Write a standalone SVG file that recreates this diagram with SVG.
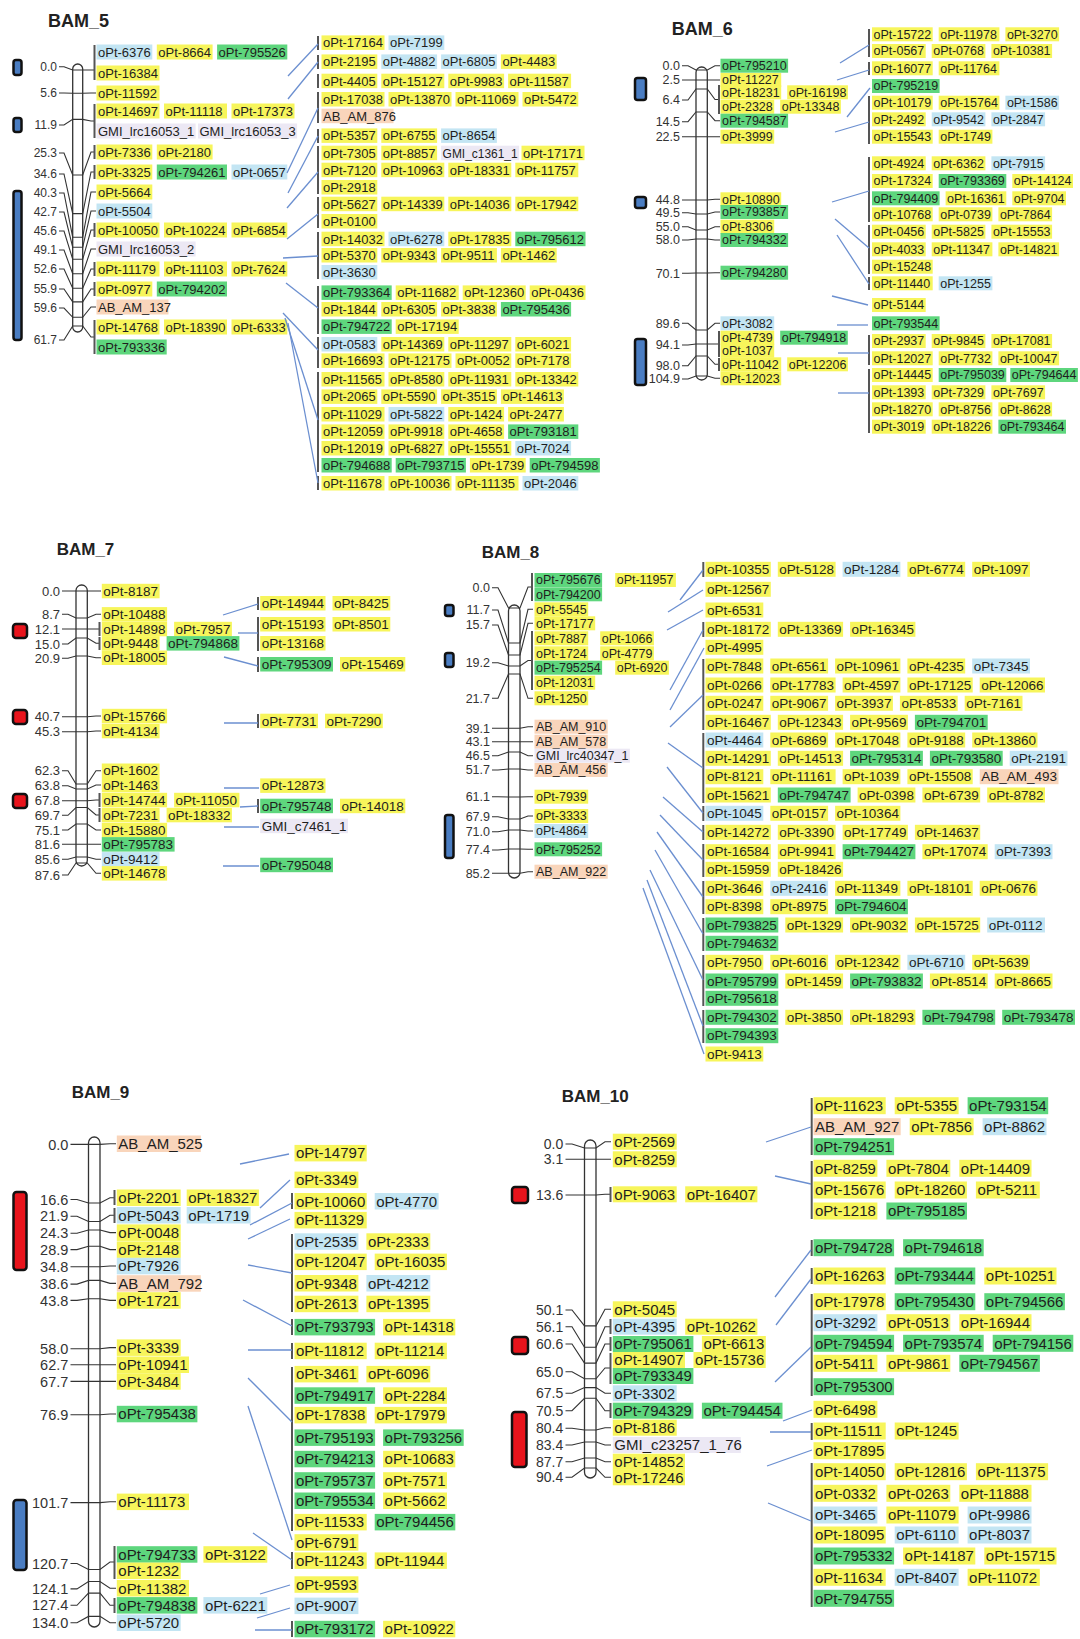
<svg xmlns="http://www.w3.org/2000/svg" width="1080" height="1639" viewBox="0 0 1080 1639">
<defs><style>
text{font-family:"Liberation Sans",Arial,Helvetica,sans-serif;fill:#1e1e1e}
.ttl{font-weight:bold;fill:#222}
.pos text{text-anchor:end;fill:#333}
.y{fill:#f7f55b}.g{fill:#5ed67d}.b{fill:#c3e5f3}.p{fill:#f9d5bb}.l{fill:#ece8f4}
.chr{fill:#fff;stroke:#333;stroke-width:1.3}
.tk{fill:none;stroke:#333;stroke-width:1.1}
.br{stroke:#555;stroke-width:2}
.cn{stroke:#6b8fd0;stroke-width:1.3;fill:none}
.qb{fill:#4a7dc2;stroke:#111;stroke-width:2.5}
.qr{fill:#e8141c;stroke:#111;stroke-width:2.5}
</style></defs>
<rect width="1080" height="1639" fill="#fff"/>

<!-- BAM_5 map -->
<g id="BAM_5">
<text class="ttl" x="48" y="27" font-size="18">BAM_5</text>
<rect class="qb" x="13.5" y="60" width="8" height="15" rx="2.5"/>
<rect class="qb" x="13.5" y="118" width="8" height="14" rx="2.5"/>
<rect class="qb" x="13.5" y="191" width="8" height="149" rx="2.5"/>
<rect class="chr" x="72.7" y="64" width="10" height="268" rx="5"/>
<g class="pos" font-size="12">
<text x="57" y="70.9">0.0</text><text x="57" y="97.2">5.6</text><text x="57" y="129.2">11.9</text><text x="57" y="157.2">25.3</text><text x="57" y="178.2">34.6</text><text x="57" y="197.2">40.3</text><text x="57" y="216.2">42.7</text><text x="57" y="235.2">45.6</text><text x="57" y="254.2">49.1</text><text x="57" y="273.2">52.6</text><text x="57" y="293.2">55.9</text><text x="57" y="312.2">59.6</text><text x="57" y="344.2">61.7</text>
</g>
<g class="tk">
<polyline points="59,66.7 64,66.7 72.7,70 82.7,70 91,70 94.5,70"/>
<polyline points="59,93 64,93 72.7,93.2 82.7,93.2 91,93 96,93"/>
<polyline points="59,125 64,125 72.7,119.4 82.7,119.4 91,121 94.5,121"/>
<polyline points="59,153 64,153 72.7,175 82.7,175 91,152 94.5,152"/>
<polyline points="59,174 64,174 72.7,213.6 82.7,213.6 91,172 94.5,172"/>
<polyline points="59,193 64,193 72.7,237.2 82.7,237.2 91,192 96,192"/>
<polyline points="59,212 64,212 72.7,247.2 82.7,247.2 91,211 96,211"/>
<polyline points="59,231 64,231 72.7,259.2 82.7,259.2 91,230 94.5,230"/>
<polyline points="59,250 64,250 72.7,273.7 82.7,273.7 91,249 96,249"/>
<polyline points="59,269 64,269 72.7,288.2 82.7,288.2 91,269 94.5,269"/>
<polyline points="59,289 64,289 72.7,301.9 82.7,301.9 91,289 94.5,289"/>
<polyline points="59,308 64,308 72.7,317.3 82.7,317.3 91,307 96,307"/>
<polyline points="59,340 64,340 72.7,326 82.7,326 91,337 94.5,337"/>
</g>
<g class="br">
<line x1="94.5" y1="45" x2="94.5" y2="80"/><line x1="94.5" y1="104" x2="94.5" y2="138"/><line x1="94.5" y1="145" x2="94.5" y2="159"/><line x1="94.5" y1="165" x2="94.5" y2="179"/><line x1="94.5" y1="223" x2="94.5" y2="237"/><line x1="94.5" y1="262" x2="94.5" y2="276"/><line x1="94.5" y1="282" x2="94.5" y2="296"/><line x1="94.5" y1="320" x2="94.5" y2="354"/>
</g>
<g font-size="13">
<rect class="b" x="96.5" y="44.5" width="55.8" height="15"/><text x="98" y="56.6">oPt-6376</text>
<rect class="y" x="156.8" y="44.5" width="55.8" height="15"/><text x="158.3" y="56.6">oPt-8664</text>
<rect class="g" x="217.1" y="44.5" width="70.2" height="15"/><text x="218.6" y="56.6">oPt-795526</text>
<rect class="y" x="96.5" y="65.5" width="63" height="15"/><text x="98" y="77.6">oPt-16384</text>
<rect class="y" x="96.5" y="85.5" width="63" height="15"/><text x="98" y="97.6">oPt-11592</text>
<rect class="y" x="96.5" y="103.5" width="63" height="15"/><text x="98" y="115.6">oPt-14697</text>
<rect class="y" x="164" y="103.5" width="63" height="15"/><text x="165.5" y="115.6">oPt-11118</text>
<rect class="y" x="231.5" y="103.5" width="63" height="15"/><text x="233" y="115.6">oPt-17373</text>
<rect class="l" x="96.5" y="123.5" width="99.1" height="15"/><text x="98" y="135.6">GMI_lrc16053_1</text>
<rect class="l" x="198" y="123.5" width="99.1" height="15"/><text x="199.5" y="135.6">GMI_lrc16053_3</text>
<rect class="y" x="96.5" y="144.5" width="55.8" height="15"/><text x="98" y="156.6">oPt-7336</text>
<rect class="y" x="156.8" y="144.5" width="55.8" height="15"/><text x="158.3" y="156.6">oPt-2180</text>
<rect class="y" x="96.5" y="164.5" width="55.8" height="15"/><text x="98" y="176.6">oPt-3325</text>
<rect class="g" x="156.8" y="164.5" width="70.2" height="15"/><text x="158.3" y="176.6">oPt-794261</text>
<rect class="b" x="231.5" y="164.5" width="55.8" height="15"/><text x="233" y="176.6">oPt-0657</text>
<rect class="y" x="96.5" y="184.5" width="55.8" height="15"/><text x="98" y="196.6">oPt-5664</text>
<rect class="b" x="96.5" y="203.5" width="55.8" height="15"/><text x="98" y="215.6">oPt-5504</text>
<rect class="y" x="96.5" y="222.5" width="63" height="15"/><text x="98" y="234.6">oPt-10050</text>
<rect class="y" x="164" y="222.5" width="63" height="15"/><text x="165.5" y="234.6">oPt-10224</text>
<rect class="y" x="231.5" y="222.5" width="55.8" height="15"/><text x="233" y="234.6">oPt-6854</text>
<rect class="l" x="96.5" y="241.5" width="99.1" height="15"/><text x="98" y="253.6">GMI_lrc16053_2</text>
<rect class="y" x="96.5" y="261.5" width="63" height="15"/><text x="98" y="273.6">oPt-11179</text>
<rect class="y" x="164" y="261.5" width="63" height="15"/><text x="165.5" y="273.6">oPt-11103</text>
<rect class="y" x="231.5" y="261.5" width="55.8" height="15"/><text x="233" y="273.6">oPt-7624</text>
<rect class="y" x="96.5" y="281.5" width="55.8" height="15"/><text x="98" y="293.6">oPt-0977</text>
<rect class="g" x="156.8" y="281.5" width="70.2" height="15"/><text x="158.3" y="293.6">oPt-794202</text>
<rect class="p" x="96.5" y="299.5" width="72" height="15"/><text x="98" y="311.6">AB_AM_137</text>
<rect class="y" x="96.5" y="319.5" width="63" height="15"/><text x="98" y="331.6">oPt-14768</text>
<rect class="y" x="164" y="319.5" width="63" height="15"/><text x="165.5" y="331.6">oPt-18390</text>
<rect class="y" x="231.5" y="319.5" width="55.8" height="15"/><text x="233" y="331.6">oPt-6333</text>
<rect class="g" x="96.5" y="339.5" width="70.2" height="15"/><text x="98" y="351.6">oPt-793336</text>
</g>
</g>

<g id="BAM_5_bins">
<g class="br">
<line x1="318" y1="36" x2="318" y2="50"/><line x1="318" y1="55" x2="318" y2="69"/><line x1="318" y1="74" x2="318" y2="88"/><line x1="318" y1="92" x2="318" y2="123"/><line x1="318" y1="129" x2="318" y2="143"/><line x1="318" y1="146" x2="318" y2="194"/><line x1="318" y1="197" x2="318" y2="228"/><line x1="318" y1="232" x2="318" y2="279"/><line x1="318" y1="286" x2="318" y2="334"/><line x1="318" y1="337" x2="318" y2="368"/><line x1="318" y1="372" x2="318" y2="472"/><line x1="318" y1="476" x2="318" y2="490"/>
</g>
<g font-size="13">
<rect class="y" x="321.5" y="35.4" width="63" height="14.5"/><text x="323" y="47.3">oPt-17164</text>
<rect class="b" x="388.5" y="35.4" width="55.8" height="14.5"/><text x="390" y="47.3">oPt-7199</text>
<rect class="y" x="321.5" y="54.4" width="55.8" height="14.5"/><text x="323" y="66.3">oPt-2195</text>
<rect class="b" x="381.3" y="54.4" width="55.8" height="14.5"/><text x="382.8" y="66.3">oPt-4882</text>
<rect class="b" x="441.1" y="54.4" width="55.8" height="14.5"/><text x="442.6" y="66.3">oPt-6805</text>
<rect class="y" x="500.9" y="54.4" width="55.8" height="14.5"/><text x="502.4" y="66.3">oPt-4483</text>
<rect class="y" x="321.5" y="73.7" width="55.8" height="14.5"/><text x="323" y="85.6">oPt-4405</text>
<rect class="y" x="381.3" y="73.7" width="63" height="14.5"/><text x="382.8" y="85.6">oPt-15127</text>
<rect class="y" x="448.3" y="73.7" width="55.8" height="14.5"/><text x="449.8" y="85.6">oPt-9983</text>
<rect class="y" x="508.1" y="73.7" width="63" height="14.5"/><text x="509.6" y="85.6">oPt-11587</text>
<rect class="y" x="321.5" y="92" width="63" height="14.5"/><text x="323" y="103.9">oPt-17038</text>
<rect class="y" x="388.5" y="92" width="63" height="14.5"/><text x="390" y="103.9">oPt-13870</text>
<rect class="y" x="455.5" y="92" width="63" height="14.5"/><text x="457" y="103.9">oPt-11069</text>
<rect class="y" x="522.5" y="92" width="55.8" height="14.5"/><text x="524" y="103.9">oPt-5472</text>
<rect class="p" x="321.5" y="108.7" width="72" height="14.5"/><text x="323" y="120.6">AB_AM_876</text>
<rect class="y" x="321.5" y="128.4" width="55.8" height="14.5"/><text x="323" y="140.3">oPt-5357</text>
<rect class="y" x="381.3" y="128.4" width="55.8" height="14.5"/><text x="382.8" y="140.3">oPt-6755</text>
<rect class="b" x="441.1" y="128.4" width="55.8" height="14.5"/><text x="442.6" y="140.3">oPt-8654</text>
<rect class="y" x="321.5" y="145.7" width="55.8" height="14.5"/><text x="323" y="157.6">oPt-7305</text>
<rect class="y" x="381.3" y="145.7" width="55.8" height="14.5"/><text x="382.8" y="157.6">oPt-8857</text>
<rect class="l" x="441.1" y="145.7" width="78" height="14.5"/><text x="442.6" y="157.6" textLength="75" lengthAdjust="spacingAndGlyphs">GMI_c1361_1</text>
<rect class="y" x="521.5" y="145.7" width="63" height="14.5"/><text x="523" y="157.6">oPt-17171</text>
<rect class="y" x="321.5" y="162.7" width="55.8" height="14.5"/><text x="323" y="174.6">oPt-7120</text>
<rect class="y" x="381.3" y="162.7" width="63" height="14.5"/><text x="382.8" y="174.6">oPt-10963</text>
<rect class="y" x="448.3" y="162.7" width="63" height="14.5"/><text x="449.8" y="174.6">oPt-18331</text>
<rect class="y" x="515.3" y="162.7" width="63" height="14.5"/><text x="516.8" y="174.6">oPt-11757</text>
<rect class="y" x="321.5" y="180" width="55.8" height="14.5"/><text x="323" y="191.9">oPt-2918</text>
<rect class="y" x="321.5" y="196.7" width="55.8" height="14.5"/><text x="323" y="208.6">oPt-5627</text>
<rect class="y" x="381.3" y="196.7" width="63" height="14.5"/><text x="382.8" y="208.6">oPt-14339</text>
<rect class="y" x="448.3" y="196.7" width="63" height="14.5"/><text x="449.8" y="208.6">oPt-14036</text>
<rect class="y" x="515.3" y="196.7" width="63" height="14.5"/><text x="516.8" y="208.6">oPt-17942</text>
<rect class="y" x="321.5" y="214" width="55.8" height="14.5"/><text x="323" y="225.9">oPt-0100</text>
<rect class="y" x="321.5" y="231.7" width="63" height="14.5"/><text x="323" y="243.6">oPt-14032</text>
<rect class="b" x="388.5" y="231.7" width="55.8" height="14.5"/><text x="390" y="243.6">oPt-6278</text>
<rect class="y" x="448.3" y="231.7" width="63" height="14.5"/><text x="449.8" y="243.6">oPt-17835</text>
<rect class="g" x="515.3" y="231.7" width="70.2" height="14.5"/><text x="516.8" y="243.6">oPt-795612</text>
<rect class="y" x="321.5" y="248" width="55.8" height="14.5"/><text x="323" y="259.9">oPt-5370</text>
<rect class="y" x="381.3" y="248" width="55.8" height="14.5"/><text x="382.8" y="259.9">oPt-9343</text>
<rect class="y" x="441.1" y="248" width="55.8" height="14.5"/><text x="442.6" y="259.9">oPt-9511</text>
<rect class="y" x="500.9" y="248" width="55.8" height="14.5"/><text x="502.4" y="259.9">oPt-1462</text>
<rect class="b" x="321.5" y="265" width="55.8" height="14.5"/><text x="323" y="276.9">oPt-3630</text>
<rect class="g" x="321.5" y="285.4" width="70.2" height="14.5"/><text x="323" y="297.3">oPt-793364</text>
<rect class="y" x="395.7" y="285.4" width="63" height="14.5"/><text x="397.2" y="297.3">oPt-11682</text>
<rect class="y" x="462.7" y="285.4" width="63" height="14.5"/><text x="464.2" y="297.3">oPt-12360</text>
<rect class="y" x="529.7" y="285.4" width="55.8" height="14.5"/><text x="531.2" y="297.3">oPt-0436</text>
<rect class="y" x="321.5" y="302" width="55.8" height="14.5"/><text x="323" y="313.9">oPt-1844</text>
<rect class="y" x="381.3" y="302" width="55.8" height="14.5"/><text x="382.8" y="313.9">oPt-6305</text>
<rect class="y" x="441.1" y="302" width="55.8" height="14.5"/><text x="442.6" y="313.9">oPt-3838</text>
<rect class="g" x="500.9" y="302" width="70.2" height="14.5"/><text x="502.4" y="313.9">oPt-795436</text>
<rect class="g" x="321.5" y="319.4" width="70.2" height="14.5"/><text x="323" y="331.3">oPt-794722</text>
<rect class="y" x="395.7" y="319.4" width="63" height="14.5"/><text x="397.2" y="331.3">oPt-17194</text>
<rect class="b" x="321.5" y="337" width="55.8" height="14.5"/><text x="323" y="348.9">oPt-0583</text>
<rect class="y" x="381.3" y="337" width="63" height="14.5"/><text x="382.8" y="348.9">oPt-14369</text>
<rect class="y" x="448.3" y="337" width="63" height="14.5"/><text x="449.8" y="348.9">oPt-11297</text>
<rect class="y" x="515.3" y="337" width="55.8" height="14.5"/><text x="516.8" y="348.9">oPt-6021</text>
<rect class="y" x="321.5" y="353.4" width="63" height="14.5"/><text x="323" y="365.3">oPt-16693</text>
<rect class="y" x="388.5" y="353.4" width="63" height="14.5"/><text x="390" y="365.3">oPt-12175</text>
<rect class="y" x="455.5" y="353.4" width="55.8" height="14.5"/><text x="457" y="365.3">oPt-0052</text>
<rect class="y" x="515.3" y="353.4" width="55.8" height="14.5"/><text x="516.8" y="365.3">oPt-7178</text>
<rect class="y" x="321.5" y="372" width="63" height="14.5"/><text x="323" y="383.9">oPt-11565</text>
<rect class="y" x="388.5" y="372" width="55.8" height="14.5"/><text x="390" y="383.9">oPt-8580</text>
<rect class="y" x="448.3" y="372" width="63" height="14.5"/><text x="449.8" y="383.9">oPt-11931</text>
<rect class="y" x="515.3" y="372" width="63" height="14.5"/><text x="516.8" y="383.9">oPt-13342</text>
<rect class="y" x="321.5" y="389.4" width="55.8" height="14.5"/><text x="323" y="401.3">oPt-2065</text>
<rect class="y" x="381.3" y="389.4" width="55.8" height="14.5"/><text x="382.8" y="401.3">oPt-5590</text>
<rect class="y" x="441.1" y="389.4" width="55.8" height="14.5"/><text x="442.6" y="401.3">oPt-3515</text>
<rect class="y" x="500.9" y="389.4" width="63" height="14.5"/><text x="502.4" y="401.3">oPt-14613</text>
<rect class="y" x="321.5" y="407" width="63" height="14.5"/><text x="323" y="418.9">oPt-11029</text>
<rect class="b" x="388.5" y="407" width="55.8" height="14.5"/><text x="390" y="418.9">oPt-5822</text>
<rect class="y" x="448.3" y="407" width="55.8" height="14.5"/><text x="449.8" y="418.9">oPt-1424</text>
<rect class="y" x="508.1" y="407" width="55.8" height="14.5"/><text x="509.6" y="418.9">oPt-2477</text>
<rect class="y" x="321.5" y="424.4" width="63" height="14.5"/><text x="323" y="436.3">oPt-12059</text>
<rect class="y" x="388.5" y="424.4" width="55.8" height="14.5"/><text x="390" y="436.3">oPt-9918</text>
<rect class="y" x="448.3" y="424.4" width="55.8" height="14.5"/><text x="449.8" y="436.3">oPt-4658</text>
<rect class="g" x="508.1" y="424.4" width="70.2" height="14.5"/><text x="509.6" y="436.3">oPt-793181</text>
<rect class="y" x="321.5" y="441" width="63" height="14.5"/><text x="323" y="452.9">oPt-12019</text>
<rect class="y" x="388.5" y="441" width="55.8" height="14.5"/><text x="390" y="452.9">oPt-6827</text>
<rect class="y" x="448.3" y="441" width="63" height="14.5"/><text x="449.8" y="452.9">oPt-15551</text>
<rect class="b" x="515.3" y="441" width="55.8" height="14.5"/><text x="516.8" y="452.9">oPt-7024</text>
<rect class="g" x="321.5" y="458" width="70.2" height="14.5"/><text x="323" y="469.9">oPt-794688</text>
<rect class="g" x="395.7" y="458" width="70.2" height="14.5"/><text x="397.2" y="469.9">oPt-793715</text>
<rect class="y" x="469.9" y="458" width="55.8" height="14.5"/><text x="471.4" y="469.9">oPt-1739</text>
<rect class="g" x="529.7" y="458" width="70.2" height="14.5"/><text x="531.2" y="469.9">oPt-794598</text>
<rect class="y" x="321.5" y="476" width="63" height="14.5"/><text x="323" y="487.9">oPt-11678</text>
<rect class="y" x="388.5" y="476" width="63" height="14.5"/><text x="390" y="487.9">oPt-10036</text>
<rect class="y" x="455.5" y="476" width="63" height="14.5"/><text x="457" y="487.9">oPt-11135</text>
<rect class="b" x="522.5" y="476" width="55.8" height="14.5"/><text x="524" y="487.9">oPt-2046</text>
</g>
</g>

<!-- BAM_6 -->
<g id="BAM_6">
<text class="ttl" x="671.7" y="35" font-size="18">BAM_6</text>
<rect class="qb" x="635" y="78" width="11" height="22" rx="2.5"/>
<rect class="qb" x="635" y="197" width="11" height="11" rx="2.5"/>
<rect class="qb" x="635" y="339" width="11" height="46" rx="2.5"/>
<rect class="chr" x="696" y="67" width="11.3" height="313" rx="5.5"/>
<g class="pos" font-size="12.5">
<text x="680" y="70.1">0.0</text><text x="680" y="84.4">2.5</text><text x="680" y="104.4">6.4</text><text x="680" y="126.1">14.5</text><text x="680" y="141.1">22.5</text><text x="680" y="204.4">44.8</text><text x="680" y="217.1">49.5</text><text x="680" y="231.1">55.0</text><text x="680" y="244.4">58.0</text><text x="680" y="277.7">70.1</text><text x="680" y="327.7">89.6</text><text x="680" y="349.4">94.1</text><text x="680" y="370.1">98.0</text><text x="680" y="383.4">104.9</text>
</g>
<g class="tk">
<polyline points="682,65.7 688,65.7 696,70 707.3,70 715,65.7 720,65.7"/>
<polyline points="682,80 688,80 696,80 707.3,80 715,80 720,80"/>
<polyline points="682,100 688,100 696,89 707.3,89 715,99.5 719,99.5"/>
<polyline points="682,121.7 688,121.7 696,112 707.3,112 715,120.7 720,120.7"/>
<polyline points="682,136.7 688,136.7 696,136.7 707.3,136.7 715,136.7 720,136.7"/>
<polyline points="682,200 688,200 696,200 707.3,200 715,199.3 720,199.3"/>
<polyline points="682,212.7 688,212.7 696,214 707.3,214 715,212 720,212"/>
<polyline points="682,226.7 688,226.7 696,230 707.3,230 715,226.7 720,226.7"/>
<polyline points="682,240 688,240 696,239 707.3,239 715,240 720,240"/>
<polyline points="682,273.3 688,273.3 696,273 707.3,273 715,272.7 720,272.7"/>
<polyline points="682,323.3 688,323.3 696,330 707.3,330 715,323.3 720,323.3"/>
<polyline points="682,345 688,345 696,344 707.3,344 715,344 719,344"/>
<polyline points="682,365.7 688,365.7 696,356 707.3,356 715,364.3 719,364.3"/>
<polyline points="682,379 688,379 696,376 707.3,376 715,378.3 720,378.3"/>
</g>
<g class="br"><line x1="719" y1="85" x2="719" y2="114"/><line x1="719" y1="331" x2="719" y2="357"/><line x1="719" y1="358" x2="719" y2="371"/></g>
<g font-size="12.5">
<rect class="g" x="720.5" y="58.7" width="67.6" height="14"/><text x="722" y="70.1">oPt-795210</text>
<rect class="y" x="720.5" y="73" width="60.7" height="14"/><text x="722" y="84.4">oPt-11227</text>
<rect class="y" x="720.5" y="85.3" width="60.7" height="14"/><text x="722" y="96.7">oPt-18231</text>
<rect class="y" x="787.2" y="85.3" width="60.7" height="14"/><text x="788.7" y="96.7">oPt-16198</text>
<rect class="y" x="720.5" y="99.7" width="53.7" height="14"/><text x="722" y="111.1">oPt-2328</text>
<rect class="y" x="780.2" y="99.7" width="60.7" height="14"/><text x="781.7" y="111.1">oPt-13348</text>
<rect class="g" x="720.5" y="113.7" width="67.6" height="14"/><text x="722" y="125.1">oPt-794587</text>
<rect class="y" x="720.5" y="129.7" width="53.7" height="14"/><text x="722" y="141.1">oPt-3999</text>
<rect class="y" x="720.5" y="192.3" width="60.7" height="14"/><text x="722" y="203.7">oPt-10890</text>
<rect class="g" x="720.5" y="205" width="67.6" height="14"/><text x="722" y="216.4">oPt-793857</text>
<rect class="y" x="720.5" y="219.7" width="53.7" height="14"/><text x="722" y="231.1">oPt-8306</text>
<rect class="g" x="720.5" y="233" width="67.6" height="14"/><text x="722" y="244.4">oPt-794332</text>
<rect class="g" x="720.5" y="265.7" width="67.6" height="14"/><text x="722" y="277.1">oPt-794280</text>
<rect class="b" x="720.5" y="316.3" width="53.7" height="14"/><text x="722" y="327.7">oPt-3082</text>
<rect class="y" x="720.5" y="330.7" width="53.7" height="14"/><text x="722" y="342.1">oPt-4739</text>
<rect class="g" x="780.2" y="330.7" width="67.6" height="14"/><text x="781.7" y="342.1">oPt-794918</text>
<rect class="y" x="720.5" y="343.7" width="53.7" height="14"/><text x="722" y="355.1">oPt-1037</text>
<rect class="y" x="720.5" y="357.3" width="60.7" height="14"/><text x="722" y="368.7">oPt-11042</text>
<rect class="y" x="787.2" y="357.3" width="60.7" height="14"/><text x="788.7" y="368.7">oPt-12206</text>
<rect class="y" x="720.5" y="371.3" width="60.7" height="14"/><text x="722" y="382.7">oPt-12023</text>
</g>
</g>

<g id="BAM_6_bins">
<g class="br">
<line x1="869" y1="29" x2="869" y2="57"/><line x1="869" y1="62" x2="869" y2="75"/><line x1="869" y1="96" x2="869" y2="144"/><line x1="869" y1="157" x2="869" y2="222"/><line x1="869" y1="225" x2="869" y2="274"/><line x1="869" y1="277" x2="869" y2="290"/><line x1="869" y1="335" x2="869" y2="365"/><line x1="869" y1="369" x2="869" y2="433"/>
</g>
<g font-size="12.5">
<rect class="y" x="872" y="27.3" width="60.7" height="14"/><text x="873.5" y="38.7">oPt-15722</text>
<rect class="y" x="938.7" y="27.3" width="60.7" height="14"/><text x="940.2" y="38.7">oPt-11978</text>
<rect class="y" x="1005.4" y="27.3" width="53.7" height="14"/><text x="1006.9" y="38.7">oPt-3270</text>
<rect class="y" x="872" y="44" width="53.7" height="14"/><text x="873.5" y="55.4">oPt-0567</text>
<rect class="y" x="931.7" y="44" width="53.7" height="14"/><text x="933.2" y="55.4">oPt-0768</text>
<rect class="y" x="991.4" y="44" width="60.7" height="14"/><text x="992.9" y="55.4">oPt-10381</text>
<rect class="y" x="872" y="61.3" width="60.7" height="14"/><text x="873.5" y="72.7">oPt-16077</text>
<rect class="y" x="938.7" y="61.3" width="60.7" height="14"/><text x="940.2" y="72.7">oPt-11764</text>
<rect class="g" x="872" y="79" width="67.6" height="14"/><text x="873.5" y="90.4">oPt-795219</text>
<rect class="y" x="872" y="95.7" width="60.7" height="14"/><text x="873.5" y="107.1">oPt-10179</text>
<rect class="y" x="938.7" y="95.7" width="60.7" height="14"/><text x="940.2" y="107.1">oPt-15764</text>
<rect class="b" x="1005.4" y="95.7" width="53.7" height="14"/><text x="1006.9" y="107.1">oPt-1586</text>
<rect class="y" x="872" y="112.3" width="53.7" height="14"/><text x="873.5" y="123.7">oPt-2492</text>
<rect class="b" x="931.7" y="112.3" width="53.7" height="14"/><text x="933.2" y="123.7">oPt-9542</text>
<rect class="b" x="991.4" y="112.3" width="53.7" height="14"/><text x="992.9" y="123.7">oPt-2847</text>
<rect class="y" x="872" y="129.7" width="60.7" height="14"/><text x="873.5" y="141.1">oPt-15543</text>
<rect class="y" x="938.7" y="129.7" width="53.7" height="14"/><text x="940.2" y="141.1">oPt-1749</text>
<rect class="y" x="872" y="156.3" width="53.7" height="14"/><text x="873.5" y="167.7">oPt-4924</text>
<rect class="y" x="931.7" y="156.3" width="53.7" height="14"/><text x="933.2" y="167.7">oPt-6362</text>
<rect class="b" x="991.4" y="156.3" width="53.7" height="14"/><text x="992.9" y="167.7">oPt-7915</text>
<rect class="y" x="872" y="174" width="60.7" height="14"/><text x="873.5" y="185.4">oPt-17324</text>
<rect class="g" x="938.7" y="174" width="67.6" height="14"/><text x="940.2" y="185.4">oPt-793369</text>
<rect class="y" x="1012.3" y="174" width="60.7" height="14"/><text x="1013.8" y="185.4">oPt-14124</text>
<rect class="g" x="872" y="191.3" width="67.6" height="14"/><text x="873.5" y="202.7">oPt-794409</text>
<rect class="y" x="945.6" y="191.3" width="60.7" height="14"/><text x="947.1" y="202.7">oPt-16361</text>
<rect class="y" x="1012.3" y="191.3" width="53.7" height="14"/><text x="1013.8" y="202.7">oPt-9704</text>
<rect class="y" x="872" y="207.3" width="60.7" height="14"/><text x="873.5" y="218.7">oPt-10768</text>
<rect class="y" x="938.7" y="207.3" width="53.7" height="14"/><text x="940.2" y="218.7">oPt-0739</text>
<rect class="y" x="998.4" y="207.3" width="53.7" height="14"/><text x="999.9" y="218.7">oPt-7864</text>
<rect class="y" x="872" y="224.7" width="53.7" height="14"/><text x="873.5" y="236.1">oPt-0456</text>
<rect class="y" x="931.7" y="224.7" width="53.7" height="14"/><text x="933.2" y="236.1">oPt-5825</text>
<rect class="y" x="991.4" y="224.7" width="60.7" height="14"/><text x="992.9" y="236.1">oPt-15553</text>
<rect class="y" x="872" y="242.3" width="53.7" height="14"/><text x="873.5" y="253.7">oPt-4033</text>
<rect class="y" x="931.7" y="242.3" width="60.7" height="14"/><text x="933.2" y="253.7">oPt-11347</text>
<rect class="y" x="998.4" y="242.3" width="60.7" height="14"/><text x="999.9" y="253.7">oPt-14821</text>
<rect class="y" x="872" y="259.7" width="60.7" height="14"/><text x="873.5" y="271.1">oPt-15248</text>
<rect class="y" x="872" y="276.3" width="60.7" height="14"/><text x="873.5" y="287.7">oPt-11440</text>
<rect class="b" x="938.7" y="276.3" width="53.7" height="14"/><text x="940.2" y="287.7">oPt-1255</text>
<rect class="y" x="872" y="298" width="53.7" height="14"/><text x="873.5" y="309.4">oPt-5144</text>
<rect class="g" x="872" y="316.3" width="67.6" height="14"/><text x="873.5" y="327.7">oPt-793544</text>
<rect class="y" x="872" y="334" width="53.7" height="14"/><text x="873.5" y="345.4">oPt-2937</text>
<rect class="y" x="931.7" y="334" width="53.7" height="14"/><text x="933.2" y="345.4">oPt-9845</text>
<rect class="y" x="991.4" y="334" width="60.7" height="14"/><text x="992.9" y="345.4">oPt-17081</text>
<rect class="y" x="872" y="351.3" width="60.7" height="14"/><text x="873.5" y="362.7">oPt-12027</text>
<rect class="y" x="938.7" y="351.3" width="53.7" height="14"/><text x="940.2" y="362.7">oPt-7732</text>
<rect class="y" x="998.4" y="351.3" width="60.7" height="14"/><text x="999.9" y="362.7">oPt-10047</text>
<rect class="y" x="872" y="368" width="60.7" height="14"/><text x="873.5" y="379.4">oPt-14445</text>
<rect class="g" x="938.7" y="368" width="67.6" height="14"/><text x="940.2" y="379.4">oPt-795039</text>
<rect class="g" x="1010.3" y="368" width="67.6" height="14"/><text x="1011.8" y="379.4">oPt-794644</text>
<rect class="y" x="872" y="385.3" width="53.7" height="14"/><text x="873.5" y="396.7">oPt-1393</text>
<rect class="y" x="931.7" y="385.3" width="53.7" height="14"/><text x="933.2" y="396.7">oPt-7329</text>
<rect class="y" x="991.4" y="385.3" width="53.7" height="14"/><text x="992.9" y="396.7">oPt-7697</text>
<rect class="y" x="872" y="402.3" width="60.7" height="14"/><text x="873.5" y="413.7">oPt-18270</text>
<rect class="y" x="938.7" y="402.3" width="53.7" height="14"/><text x="940.2" y="413.7">oPt-8756</text>
<rect class="y" x="998.4" y="402.3" width="53.7" height="14"/><text x="999.9" y="413.7">oPt-8628</text>
<rect class="y" x="872" y="419.7" width="53.7" height="14"/><text x="873.5" y="431.1">oPt-3019</text>
<rect class="y" x="931.7" y="419.7" width="60.7" height="14"/><text x="933.2" y="431.1">oPt-18226</text>
<rect class="g" x="998.4" y="419.7" width="67.6" height="14"/><text x="999.9" y="431.1">oPt-793464</text>
</g>
</g>

<!-- BAM_7 -->
<g id="BAM_7">
<text class="ttl" x="56.7" y="555" font-size="17">BAM_7</text>
<rect class="qr" x="13" y="624" width="14" height="14" rx="3"/>
<rect class="qr" x="13" y="710" width="14" height="14" rx="3"/>
<rect class="qr" x="13" y="794" width="14" height="14" rx="3"/>
<rect class="chr" x="76" y="585" width="11.3" height="281" rx="5.5"/>
<g class="pos" font-size="13">
<text x="60" y="595.6">0.0</text><text x="60" y="618.9">8.7</text><text x="60" y="633.6">12.1</text><text x="60" y="648.6">15.0</text><text x="60" y="662.9">20.9</text><text x="60" y="721.3">40.7</text><text x="60" y="736.3">45.3</text><text x="60" y="775.3">62.3</text><text x="60" y="790.3">63.8</text><text x="60" y="805.3">67.8</text><text x="60" y="819.9">69.7</text><text x="60" y="834.6">75.1</text><text x="60" y="848.9">81.6</text><text x="60" y="863.9">85.6</text><text x="60" y="879.6">87.6</text>
</g>
<g class="tk">
<polyline points="62,591 68,591 76,591 87.3,591 96,591 101,591"/>
<polyline points="62,614.3 68,614.3 76,618 87.3,618 96,614.3 101,614.3"/>
<polyline points="62,629 68,629 76,629 87.3,629 96,629 99.5,629"/>
<polyline points="62,644 68,644 76,638 87.3,638 96,643.3 99.5,643.3"/>
<polyline points="62,658.3 68,658.3 76,656 87.3,656 96,657.7 101,657.7"/>
<polyline points="62,716.7 68,716.7 76,716.7 87.3,716.7 96,716 101,716"/>
<polyline points="62,731.7 68,731.7 76,731.7 87.3,731.7 96,731 101,731"/>
<polyline points="62,770.7 68,770.7 76,784 87.3,784 96,770.7 101,770.7"/>
<polyline points="62,785.7 68,785.7 76,789 87.3,789 96,785 101,785"/>
<polyline points="62,800.7 68,800.7 76,800.7 87.3,800.7 96,800 99.5,800"/>
<polyline points="62,815.3 68,815.3 76,807.5 87.3,807.5 96,815 99.5,815"/>
<polyline points="62,830 68,830 76,824 87.3,824 96,830 101,830"/>
<polyline points="62,844.3 68,844.3 76,844.3 87.3,844.3 96,844.3 101,844.3"/>
<polyline points="62,859.3 68,859.3 76,857 87.3,857 96,859.3 101,859.3"/>
<polyline points="62,875 68,875 76,863 87.3,863 96,873.3 101,873.3"/>
</g>
<g class="br"><line x1="99.5" y1="622" x2="99.5" y2="636"/><line x1="99.5" y1="637" x2="99.5" y2="650"/><line x1="99.5" y1="793" x2="99.5" y2="807"/><line x1="99.5" y1="808" x2="99.5" y2="822"/></g>
<g font-size="13.5">
<rect class="y" x="101.8" y="583.8" width="57.8" height="14.5"/><text x="103.3" y="595.7">oPt-8187</text>
<rect class="y" x="101.8" y="607.1" width="65.3" height="14.5"/><text x="103.3" y="619">oPt-10488</text>
<rect class="y" x="101.8" y="621.8" width="65.3" height="14.5"/><text x="103.3" y="633.7">oPt-14898</text>
<rect class="y" x="174.1" y="621.8" width="57.8" height="14.5"/><text x="175.6" y="633.7">oPt-7957</text>
<rect class="y" x="101.8" y="636.1" width="57.8" height="14.5"/><text x="103.3" y="648">oPt-9448</text>
<rect class="g" x="166.6" y="636.1" width="72.8" height="14.5"/><text x="168.1" y="648">oPt-794868</text>
<rect class="y" x="101.8" y="650.5" width="65.3" height="14.5"/><text x="103.3" y="662.4">oPt-18005</text>
<rect class="y" x="101.8" y="708.8" width="65.3" height="14.5"/><text x="103.3" y="720.7">oPt-15766</text>
<rect class="y" x="101.8" y="723.8" width="57.8" height="14.5"/><text x="103.3" y="735.7">oPt-4134</text>
<rect class="y" x="101.8" y="763.5" width="57.8" height="14.5"/><text x="103.3" y="775.4">oPt-1602</text>
<rect class="y" x="101.8" y="777.8" width="57.8" height="14.5"/><text x="103.3" y="789.7">oPt-1463</text>
<rect class="y" x="101.8" y="792.8" width="65.3" height="14.5"/><text x="103.3" y="804.7">oPt-14744</text>
<rect class="y" x="174.1" y="792.8" width="65.3" height="14.5"/><text x="175.6" y="804.7">oPt-11050</text>
<rect class="y" x="101.8" y="807.8" width="57.8" height="14.5"/><text x="103.3" y="819.7">oPt-7231</text>
<rect class="y" x="166.6" y="807.8" width="65.3" height="14.5"/><text x="168.1" y="819.7">oPt-18332</text>
<rect class="y" x="101.8" y="822.8" width="65.3" height="14.5"/><text x="103.3" y="834.7">oPt-15880</text>
<rect class="g" x="101.8" y="837.1" width="72.8" height="14.5"/><text x="103.3" y="849">oPt-795783</text>
<rect class="b" x="101.8" y="852.1" width="57.8" height="14.5"/><text x="103.3" y="864">oPt-9412</text>
<rect class="y" x="101.8" y="866.1" width="65.3" height="14.5"/><text x="103.3" y="878">oPt-14678</text>
</g>
</g>

<g id="BAM_7_bins">
<g class="br"><line x1="258" y1="597" x2="258" y2="610"/><line x1="258" y1="617" x2="258" y2="651"/><line x1="258" y1="657" x2="258" y2="672"/><line x1="258" y1="714" x2="258" y2="728"/><line x1="258" y1="799" x2="258" y2="813"/></g>
<g font-size="13.5">
<rect class="y" x="260.2" y="596" width="65.3" height="14.5"/><text x="261.7" y="608">oPt-14944</text>
<rect class="y" x="332.5" y="596" width="57.8" height="14.5"/><text x="334" y="608">oPt-8425</text>
<rect class="y" x="260.2" y="617" width="65.3" height="14.5"/><text x="261.7" y="629">oPt-15193</text>
<rect class="y" x="332.5" y="617" width="57.8" height="14.5"/><text x="334" y="629">oPt-8501</text>
<rect class="y" x="260.2" y="636" width="65.3" height="14.5"/><text x="261.7" y="648">oPt-13168</text>
<rect class="g" x="260.2" y="657" width="72.8" height="14.5"/><text x="261.7" y="669">oPt-795309</text>
<rect class="y" x="340" y="657" width="65.3" height="14.5"/><text x="341.5" y="669">oPt-15469</text>
<rect class="y" x="260.2" y="713.7" width="57.8" height="14.5"/><text x="261.7" y="725.7">oPt-7731</text>
<rect class="y" x="325" y="713.7" width="57.8" height="14.5"/><text x="326.5" y="725.7">oPt-7290</text>
<rect class="y" x="260.2" y="778.4" width="65.3" height="14.5"/><text x="261.7" y="790.4">oPt-12873</text>
<rect class="g" x="260.2" y="798.7" width="72.8" height="14.5"/><text x="261.7" y="810.7">oPt-795748</text>
<rect class="y" x="340" y="798.7" width="65.3" height="14.5"/><text x="341.5" y="810.7">oPt-14018</text>
<rect class="l" x="260.2" y="818.7" width="87.8" height="14.5"/><text x="261.7" y="830.7">GMI_c7461_1</text>
<rect class="g" x="260.2" y="857.7" width="72.8" height="14.5"/><text x="261.7" y="869.7">oPt-795048</text>
</g>
</g>

<!-- BAM_8 -->
<g id="BAM_8">
<text class="ttl" x="481.7" y="558" font-size="17">BAM_8</text>
<rect class="qb" x="445" y="605" width="8.5" height="11" rx="2.5"/>
<rect class="qb" x="445" y="653" width="8.5" height="14" rx="2.5"/>
<rect class="qb" x="445" y="815" width="8.5" height="43" rx="2.5"/>
<rect class="chr" x="508.5" y="605" width="11.5" height="273" rx="5.7"/>
<g class="pos" font-size="12.5">
<text x="490" y="592.1">0.0</text><text x="490" y="614.4">11.7</text><text x="490" y="629.4">15.7</text><text x="490" y="667.1">19.2</text><text x="490" y="702.7">21.7</text><text x="490" y="732.7">39.1</text><text x="490" y="746.1">43.1</text><text x="490" y="760.1">46.5</text><text x="490" y="774.4">51.7</text><text x="490" y="801.1">61.1</text><text x="490" y="821.1">67.9</text><text x="490" y="836.1">71.0</text><text x="490" y="854.4">77.4</text><text x="490" y="877.7">85.2</text>
</g>
<g class="tk">
<polyline points="492,587.7 498,587.7 508.5,608 520,608 528,587 532,587"/>
<polyline points="492,610 498,610 508.5,643 520,643 528,609.3 533,609.3"/>
<polyline points="492,625 498,625 508.5,655 520,655 528,623.3 533,623.3"/>
<polyline points="492,662.7 498,662.7 508.5,666 520,666 528,660.5 532,660.5"/>
<polyline points="492,698.3 498,698.3 508.5,674 520,674 528,698.3 533,698.3"/>
<polyline points="492,728.3 498,728.3 508.5,728.3 520,728.3 528,726.7 533,726.7"/>
<polyline points="492,741.7 498,741.7 508.5,741.7 520,741.7 528,741.7 533,741.7"/>
<polyline points="492,755.7 498,755.7 508.5,752 520,752 528,755.7 533,755.7"/>
<polyline points="492,770 498,770 508.5,769 520,769 528,770 533,770"/>
<polyline points="492,796.7 498,796.7 508.5,797 520,797 528,796.7 533,796.7"/>
<polyline points="492,816.7 498,816.7 508.5,819 520,819 528,816 533,816"/>
<polyline points="492,831.7 498,831.7 508.5,830 520,830 528,831 533,831"/>
<polyline points="492,850 498,850 508.5,849 520,849 528,849.3 533,849.3"/>
<polyline points="492,873.3 498,873.3 508.5,873.3 520,873.3 528,871.7 533,871.7"/>
</g>
<g class="br"><line x1="532" y1="573" x2="532" y2="601"/><line x1="532" y1="631" x2="532" y2="690"/></g>
<g font-size="12.5">
<rect class="g" x="534.5" y="573" width="67.6" height="14"/><text x="536" y="584.4">oPt-795676</text>
<rect class="y" x="615.2" y="573" width="60.7" height="14"/><text x="616.7" y="584.4">oPt-11957</text>
<rect class="g" x="534.5" y="587.3" width="67.6" height="14"/><text x="536" y="598.7">oPt-794200</text>
<rect class="y" x="534.5" y="602.3" width="53.7" height="14"/><text x="536" y="613.7">oPt-5545</text>
<rect class="y" x="534.5" y="616.3" width="60.7" height="14"/><text x="536" y="627.7">oPt-17177</text>
<rect class="y" x="534.5" y="631.3" width="53.7" height="14"/><text x="536" y="642.7">oPt-7887</text>
<rect class="y" x="600.2" y="631.3" width="53.7" height="14"/><text x="601.7" y="642.7">oPt-1066</text>
<rect class="y" x="534.5" y="646.3" width="53.7" height="14"/><text x="536" y="657.7">oPt-1724</text>
<rect class="y" x="600.2" y="646.3" width="53.7" height="14"/><text x="601.7" y="657.7">oPt-4779</text>
<rect class="g" x="534.5" y="660.7" width="67.6" height="14"/><text x="536" y="672.1">oPt-795254</text>
<rect class="y" x="615.2" y="660.7" width="53.7" height="14"/><text x="616.7" y="672.1">oPt-6920</text>
<rect class="y" x="534.5" y="675.7" width="60.7" height="14"/><text x="536" y="687.1">oPt-12031</text>
<rect class="y" x="534.5" y="691.3" width="53.7" height="14"/><text x="536" y="702.7">oPt-1250</text>
<rect class="p" x="534.5" y="719.7" width="73.2" height="14"/><text x="536" y="731.1">AB_AM_910</text>
<rect class="p" x="534.5" y="734.7" width="73.2" height="14"/><text x="536" y="746.1">AB_AM_578</text>
<rect class="l" x="534.5" y="748.7" width="95.4" height="14"/><text x="536" y="760.1">GMI_lrc40347_1</text>
<rect class="p" x="534.5" y="763" width="73.2" height="14"/><text x="536" y="774.4">AB_AM_456</text>
<rect class="y" x="534.5" y="789.7" width="53.7" height="14"/><text x="536" y="801.1">oPt-7939</text>
<rect class="y" x="534.5" y="809" width="53.7" height="14"/><text x="536" y="820.4">oPt-3333</text>
<rect class="b" x="534.5" y="824" width="53.7" height="14"/><text x="536" y="835.4">oPt-4864</text>
<rect class="g" x="534.5" y="842.3" width="67.6" height="14"/><text x="536" y="853.7">oPt-795252</text>
<rect class="p" x="534.5" y="864.7" width="73.2" height="14"/><text x="536" y="876.1">AB_AM_922</text>
</g>
</g>

<g id="BAM_8_bins">
<g class="br">
<line x1="703.3" y1="562" x2="703.3" y2="577"/><line x1="703.3" y1="622" x2="703.3" y2="637"/><line x1="703.3" y1="659" x2="703.3" y2="730"/><line x1="703.3" y1="733" x2="703.3" y2="803"/><line x1="703.3" y1="806" x2="703.3" y2="821"/><line x1="703.3" y1="825" x2="703.3" y2="840"/><line x1="703.3" y1="844" x2="703.3" y2="877"/><line x1="703.3" y1="881" x2="703.3" y2="914"/><line x1="703.3" y1="918" x2="703.3" y2="951"/><line x1="703.3" y1="955" x2="703.3" y2="1006"/><line x1="703.3" y1="1010" x2="703.3" y2="1043"/>
</g>
<g font-size="13.5">
<rect class="y" x="705.5" y="561.8" width="65.3" height="15"/><text x="707" y="574">oPt-10355</text>
<rect class="y" x="777.8" y="561.8" width="57.8" height="15"/><text x="779.3" y="574">oPt-5128</text>
<rect class="b" x="842.6" y="561.8" width="57.8" height="15"/><text x="844.1" y="574">oPt-1284</text>
<rect class="y" x="907.4" y="561.8" width="57.8" height="15"/><text x="908.9" y="574">oPt-6774</text>
<rect class="y" x="972.2" y="561.8" width="57.8" height="15"/><text x="973.7" y="574">oPt-1097</text>
<rect class="y" x="705.5" y="581.8" width="65.3" height="15"/><text x="707" y="594">oPt-12567</text>
<rect class="y" x="705.5" y="602.5" width="57.8" height="15"/><text x="707" y="614.7">oPt-6531</text>
<rect class="y" x="705.5" y="621.8" width="65.3" height="15"/><text x="707" y="634">oPt-18172</text>
<rect class="y" x="777.8" y="621.8" width="65.3" height="15"/><text x="779.3" y="634">oPt-13369</text>
<rect class="y" x="850.1" y="621.8" width="65.3" height="15"/><text x="851.6" y="634">oPt-16345</text>
<rect class="y" x="705.5" y="639.8" width="57.8" height="15"/><text x="707" y="652">oPt-4995</text>
<rect class="y" x="705.5" y="658.5" width="57.8" height="15"/><text x="707" y="670.7">oPt-7848</text>
<rect class="y" x="770.3" y="658.5" width="57.8" height="15"/><text x="771.8" y="670.7">oPt-6561</text>
<rect class="y" x="835.1" y="658.5" width="65.3" height="15"/><text x="836.6" y="670.7">oPt-10961</text>
<rect class="y" x="907.4" y="658.5" width="57.8" height="15"/><text x="908.9" y="670.7">oPt-4235</text>
<rect class="b" x="972.2" y="658.5" width="57.8" height="15"/><text x="973.7" y="670.7">oPt-7345</text>
<rect class="y" x="705.5" y="677.5" width="57.8" height="15"/><text x="707" y="689.7">oPt-0266</text>
<rect class="y" x="770.3" y="677.5" width="65.3" height="15"/><text x="771.8" y="689.7">oPt-17783</text>
<rect class="y" x="842.6" y="677.5" width="57.8" height="15"/><text x="844.1" y="689.7">oPt-4597</text>
<rect class="y" x="907.4" y="677.5" width="65.3" height="15"/><text x="908.9" y="689.7">oPt-17125</text>
<rect class="y" x="979.7" y="677.5" width="65.3" height="15"/><text x="981.2" y="689.7">oPt-12066</text>
<rect class="y" x="705.5" y="695.8" width="57.8" height="15"/><text x="707" y="708">oPt-0247</text>
<rect class="y" x="770.3" y="695.8" width="57.8" height="15"/><text x="771.8" y="708">oPt-9067</text>
<rect class="y" x="835.1" y="695.8" width="57.8" height="15"/><text x="836.6" y="708">oPt-3937</text>
<rect class="y" x="899.9" y="695.8" width="57.8" height="15"/><text x="901.4" y="708">oPt-8533</text>
<rect class="y" x="964.7" y="695.8" width="57.8" height="15"/><text x="966.2" y="708">oPt-7161</text>
<rect class="y" x="705.5" y="714.8" width="65.3" height="15"/><text x="707" y="727">oPt-16467</text>
<rect class="y" x="777.8" y="714.8" width="65.3" height="15"/><text x="779.3" y="727">oPt-12343</text>
<rect class="y" x="850.1" y="714.8" width="57.8" height="15"/><text x="851.6" y="727">oPt-9569</text>
<rect class="g" x="914.9" y="714.8" width="72.8" height="15"/><text x="916.4" y="727">oPt-794701</text>
<rect class="b" x="705.5" y="732.5" width="57.8" height="15"/><text x="707" y="744.7">oPt-4464</text>
<rect class="y" x="770.3" y="732.5" width="57.8" height="15"/><text x="771.8" y="744.7">oPt-6869</text>
<rect class="y" x="835.1" y="732.5" width="65.3" height="15"/><text x="836.6" y="744.7">oPt-17048</text>
<rect class="y" x="907.4" y="732.5" width="57.8" height="15"/><text x="908.9" y="744.7">oPt-9188</text>
<rect class="y" x="972.2" y="732.5" width="65.3" height="15"/><text x="973.7" y="744.7">oPt-13860</text>
<rect class="y" x="705.5" y="750.8" width="65.3" height="15"/><text x="707" y="763">oPt-14291</text>
<rect class="y" x="777.8" y="750.8" width="65.3" height="15"/><text x="779.3" y="763">oPt-14513</text>
<rect class="g" x="850.1" y="750.8" width="72.8" height="15"/><text x="851.6" y="763">oPt-795314</text>
<rect class="g" x="929.9" y="750.8" width="72.8" height="15"/><text x="931.4" y="763">oPt-793580</text>
<rect class="b" x="1009.7" y="750.8" width="57.8" height="15"/><text x="1011.2" y="763">oPt-2191</text>
<rect class="y" x="705.5" y="769.2" width="57.8" height="15"/><text x="707" y="781.4">oPt-8121</text>
<rect class="y" x="770.3" y="769.2" width="65.3" height="15"/><text x="771.8" y="781.4">oPt-11161</text>
<rect class="y" x="842.6" y="769.2" width="57.8" height="15"/><text x="844.1" y="781.4">oPt-1039</text>
<rect class="y" x="907.4" y="769.2" width="65.3" height="15"/><text x="908.9" y="781.4">oPt-15508</text>
<rect class="p" x="979.7" y="769.2" width="78.8" height="15"/><text x="981.2" y="781.4">AB_AM_493</text>
<rect class="y" x="705.5" y="787.5" width="65.3" height="15"/><text x="707" y="799.7">oPt-15621</text>
<rect class="g" x="777.8" y="787.5" width="72.8" height="15"/><text x="779.3" y="799.7">oPt-794747</text>
<rect class="y" x="857.6" y="787.5" width="57.8" height="15"/><text x="859.1" y="799.7">oPt-0398</text>
<rect class="y" x="922.4" y="787.5" width="57.8" height="15"/><text x="923.9" y="799.7">oPt-6739</text>
<rect class="y" x="987.2" y="787.5" width="57.8" height="15"/><text x="988.7" y="799.7">oPt-8782</text>
<rect class="b" x="705.5" y="805.8" width="57.8" height="15"/><text x="707" y="818">oPt-1045</text>
<rect class="y" x="770.3" y="805.8" width="57.8" height="15"/><text x="771.8" y="818">oPt-0157</text>
<rect class="y" x="835.1" y="805.8" width="65.3" height="15"/><text x="836.6" y="818">oPt-10364</text>
<rect class="y" x="705.5" y="824.8" width="65.3" height="15"/><text x="707" y="837">oPt-14272</text>
<rect class="y" x="777.8" y="824.8" width="57.8" height="15"/><text x="779.3" y="837">oPt-3390</text>
<rect class="y" x="842.6" y="824.8" width="65.3" height="15"/><text x="844.1" y="837">oPt-17749</text>
<rect class="y" x="914.9" y="824.8" width="65.3" height="15"/><text x="916.4" y="837">oPt-14637</text>
<rect class="y" x="705.5" y="844.2" width="65.3" height="15"/><text x="707" y="856.4">oPt-16584</text>
<rect class="y" x="777.8" y="844.2" width="57.8" height="15"/><text x="779.3" y="856.4">oPt-9941</text>
<rect class="g" x="842.6" y="844.2" width="72.8" height="15"/><text x="844.1" y="856.4">oPt-794427</text>
<rect class="y" x="922.4" y="844.2" width="65.3" height="15"/><text x="923.9" y="856.4">oPt-17074</text>
<rect class="b" x="994.7" y="844.2" width="57.8" height="15"/><text x="996.2" y="856.4">oPt-7393</text>
<rect class="y" x="705.5" y="861.8" width="65.3" height="15"/><text x="707" y="874">oPt-15959</text>
<rect class="y" x="777.8" y="861.8" width="65.3" height="15"/><text x="779.3" y="874">oPt-18426</text>
<rect class="y" x="705.5" y="880.8" width="57.8" height="15"/><text x="707" y="893">oPt-3646</text>
<rect class="b" x="770.3" y="880.8" width="57.8" height="15"/><text x="771.8" y="893">oPt-2416</text>
<rect class="y" x="835.1" y="880.8" width="65.3" height="15"/><text x="836.6" y="893">oPt-11349</text>
<rect class="y" x="907.4" y="880.8" width="65.3" height="15"/><text x="908.9" y="893">oPt-18101</text>
<rect class="y" x="979.7" y="880.8" width="57.8" height="15"/><text x="981.2" y="893">oPt-0676</text>
<rect class="y" x="705.5" y="899.2" width="57.8" height="15"/><text x="707" y="911.4">oPt-8398</text>
<rect class="y" x="770.3" y="899.2" width="57.8" height="15"/><text x="771.8" y="911.4">oPt-8975</text>
<rect class="g" x="835.1" y="899.2" width="72.8" height="15"/><text x="836.6" y="911.4">oPt-794604</text>
<rect class="g" x="705.5" y="917.5" width="72.8" height="15"/><text x="707" y="929.7">oPt-793825</text>
<rect class="y" x="785.3" y="917.5" width="57.8" height="15"/><text x="786.8" y="929.7">oPt-1329</text>
<rect class="y" x="850.1" y="917.5" width="57.8" height="15"/><text x="851.6" y="929.7">oPt-9032</text>
<rect class="y" x="914.9" y="917.5" width="65.3" height="15"/><text x="916.4" y="929.7">oPt-15725</text>
<rect class="b" x="987.2" y="917.5" width="57.8" height="15"/><text x="988.7" y="929.7">oPt-0112</text>
<rect class="g" x="705.5" y="935.8" width="72.8" height="15"/><text x="707" y="948">oPt-794632</text>
<rect class="y" x="705.5" y="954.8" width="57.8" height="15"/><text x="707" y="967">oPt-7950</text>
<rect class="y" x="770.3" y="954.8" width="57.8" height="15"/><text x="771.8" y="967">oPt-6016</text>
<rect class="y" x="835.1" y="954.8" width="65.3" height="15"/><text x="836.6" y="967">oPt-12342</text>
<rect class="b" x="907.4" y="954.8" width="57.8" height="15"/><text x="908.9" y="967">oPt-6710</text>
<rect class="y" x="972.2" y="954.8" width="57.8" height="15"/><text x="973.7" y="967">oPt-5639</text>
<rect class="g" x="705.5" y="973.5" width="72.8" height="15"/><text x="707" y="985.7">oPt-795799</text>
<rect class="y" x="785.3" y="973.5" width="57.8" height="15"/><text x="786.8" y="985.7">oPt-1459</text>
<rect class="g" x="850.1" y="973.5" width="72.8" height="15"/><text x="851.6" y="985.7">oPt-793832</text>
<rect class="y" x="929.9" y="973.5" width="57.8" height="15"/><text x="931.4" y="985.7">oPt-8514</text>
<rect class="y" x="994.7" y="973.5" width="57.8" height="15"/><text x="996.2" y="985.7">oPt-8665</text>
<rect class="g" x="705.5" y="990.8" width="72.8" height="15"/><text x="707" y="1003">oPt-795618</text>
<rect class="g" x="705.5" y="1009.8" width="72.8" height="15"/><text x="707" y="1022">oPt-794302</text>
<rect class="y" x="785.3" y="1009.8" width="57.8" height="15"/><text x="786.8" y="1022">oPt-3850</text>
<rect class="y" x="850.1" y="1009.8" width="65.3" height="15"/><text x="851.6" y="1022">oPt-18293</text>
<rect class="g" x="922.4" y="1009.8" width="72.8" height="15"/><text x="923.9" y="1022">oPt-794798</text>
<rect class="g" x="1002.2" y="1009.8" width="72.8" height="15"/><text x="1003.7" y="1022">oPt-793478</text>
<rect class="g" x="705.5" y="1028.2" width="72.8" height="15"/><text x="707" y="1040.4">oPt-794393</text>
<rect class="y" x="705.5" y="1046.5" width="57.8" height="15"/><text x="707" y="1058.7">oPt-9413</text>
</g>
</g>

<!-- BAM_9 -->
<g id="BAM_9">
<text class="ttl" x="71.7" y="1098" font-size="17">BAM_9</text>
<rect class="qr" x="13.5" y="1192" width="13" height="78" rx="3"/>
<rect class="qb" x="13.5" y="1500" width="13" height="70" rx="3"/>
<rect class="chr" x="88.5" y="1137" width="11.5" height="490" rx="5.7"/>
<g class="pos" font-size="14.5">
<text x="68.3" y="1149.5">0.0</text><text x="68.3" y="1204.6">16.6</text><text x="68.3" y="1221.3">21.9</text><text x="68.3" y="1238.4">24.3</text><text x="68.3" y="1254.7">28.9</text><text x="68.3" y="1271.8">34.8</text><text x="68.3" y="1289.2">38.6</text><text x="68.3" y="1305.5">43.8</text><text x="68.3" y="1353.8">58.0</text><text x="68.3" y="1369.8">62.7</text><text x="68.3" y="1386.5">67.7</text><text x="68.3" y="1419.8">76.9</text><text x="68.3" y="1507.7">101.7</text><text x="68.3" y="1568.6">120.7</text><text x="68.3" y="1594">124.1</text><text x="68.3" y="1610.4">127.4</text><text x="68.3" y="1627.8">134.0</text>
</g>
<g class="tk">
<polyline points="70.5,1144.4 77,1144.4 88.5,1144.4 100,1144.4 110,1143.7 116,1143.7"/>
<polyline points="70.5,1199.5 77,1199.5 88.5,1203 100,1203 110,1197.7 114.5,1197.7"/>
<polyline points="70.5,1216.2 77,1216.2 88.5,1221.5 100,1221.5 110,1215.2 114.5,1215.2"/>
<polyline points="70.5,1233.3 77,1233.3 88.5,1230 100,1230 110,1232.6 116,1232.6"/>
<polyline points="70.5,1249.6 77,1249.6 88.5,1246.2 100,1246.2 110,1249.6 116,1249.6"/>
<polyline points="70.5,1266.7 77,1266.7 88.5,1266.7 100,1266.7 110,1266 116,1266"/>
<polyline points="70.5,1284.1 77,1284.1 88.5,1280.4 100,1280.4 110,1283.4 116,1283.4"/>
<polyline points="70.5,1300.4 77,1300.4 88.5,1298.7 100,1298.7 110,1300.4 116,1300.4"/>
<polyline points="70.5,1348.7 77,1348.7 88.5,1348.7 100,1348.7 110,1347.6 116,1347.6"/>
<polyline points="70.5,1364.7 77,1364.7 88.5,1364.7 100,1364.7 110,1364.7 116,1364.7"/>
<polyline points="70.5,1381.4 77,1381.4 88.5,1381.4 100,1381.4 110,1381.4 116,1381.4"/>
<polyline points="70.5,1414.7 77,1414.7 88.5,1414.7 100,1414.7 110,1414 116,1414"/>
<polyline points="70.5,1502.6 77,1502.6 88.5,1502.6 100,1502.6 110,1501.8 116,1501.8"/>
<polyline points="70.5,1563.5 77,1563.5 88.5,1569.5 100,1569.5 110,1562 114.5,1562"/>
<polyline points="70.5,1588.9 77,1588.9 88.5,1581.5 100,1581.5 110,1588.2 116,1588.2"/>
<polyline points="70.5,1605.3 77,1605.3 88.5,1593.1 100,1593.1 110,1605.3 114.5,1605.3"/>
<polyline points="70.5,1622.7 77,1622.7 88.5,1616.4 100,1616.4 110,1622.7 116,1622.7"/>
</g>
<g class="br"><line x1="114.5" y1="1190" x2="114.5" y2="1205"/><line x1="114.5" y1="1208" x2="114.5" y2="1223"/><line x1="114.5" y1="1546" x2="114.5" y2="1579"/><line x1="114.5" y1="1598" x2="114.5" y2="1613"/></g>
<g font-size="15">
<rect class="p" x="116.8" y="1135.5" width="84" height="16.5"/><text x="118.3" y="1149">AB_AM_525</text>
<rect class="y" x="116.8" y="1189.5" width="63.9" height="16.5"/><text x="118.3" y="1203">oPt-2201</text>
<rect class="y" x="186.7" y="1189.5" width="72.2" height="16.5"/><text x="188.2" y="1203">oPt-18327</text>
<rect class="b" x="116.8" y="1207" width="63.9" height="16.5"/><text x="118.3" y="1220.5">oPt-5043</text>
<rect class="b" x="186.7" y="1207" width="63.9" height="16.5"/><text x="188.2" y="1220.5">oPt-1719</text>
<rect class="y" x="116.8" y="1224.4" width="63.9" height="16.5"/><text x="118.3" y="1237.9">oPt-0048</text>
<rect class="y" x="116.8" y="1241.4" width="63.9" height="16.5"/><text x="118.3" y="1254.9">oPt-2148</text>
<rect class="b" x="116.8" y="1257.8" width="63.9" height="16.5"/><text x="118.3" y="1271.3">oPt-7926</text>
<rect class="p" x="116.8" y="1275.2" width="84" height="16.5"/><text x="118.3" y="1288.7">AB_AM_792</text>
<rect class="y" x="116.8" y="1292.2" width="63.9" height="16.5"/><text x="118.3" y="1305.7">oPt-1721</text>
<rect class="y" x="116.8" y="1339.4" width="63.9" height="16.5"/><text x="118.3" y="1352.9">oPt-3339</text>
<rect class="y" x="116.8" y="1356.5" width="72.2" height="16.5"/><text x="118.3" y="1370">oPt-10941</text>
<rect class="y" x="116.8" y="1373.2" width="63.9" height="16.5"/><text x="118.3" y="1386.7">oPt-3484</text>
<rect class="g" x="116.8" y="1405.8" width="80.6" height="16.5"/><text x="118.3" y="1419.3">oPt-795438</text>
<rect class="y" x="116.8" y="1493.6" width="72.2" height="16.5"/><text x="118.3" y="1507.1">oPt-11173</text>
<rect class="g" x="116.8" y="1546.2" width="80.6" height="16.5"/><text x="118.3" y="1559.7">oPt-794733</text>
<rect class="y" x="203.4" y="1546.2" width="63.9" height="16.5"/><text x="204.9" y="1559.7">oPt-3122</text>
<rect class="y" x="116.8" y="1562.6" width="63.9" height="16.5"/><text x="118.3" y="1576.1">oPt-1232</text>
<rect class="y" x="116.8" y="1580" width="72.2" height="16.5"/><text x="118.3" y="1593.5">oPt-11382</text>
<rect class="g" x="116.8" y="1597.1" width="80.6" height="16.5"/><text x="118.3" y="1610.6">oPt-794838</text>
<rect class="b" x="203.4" y="1597.1" width="63.9" height="16.5"/><text x="204.9" y="1610.6">oPt-6221</text>
<rect class="b" x="116.8" y="1614.5" width="63.9" height="16.5"/><text x="118.3" y="1628">oPt-5720</text>
</g>
</g>

<g id="BAM_9_bins">
<g class="br"><line x1="292" y1="1193" x2="292" y2="1209"/><line x1="292" y1="1234" x2="292" y2="1312"/><line x1="292" y1="1319" x2="292" y2="1335"/><line x1="292" y1="1343" x2="292" y2="1359"/><line x1="292" y1="1367" x2="292" y2="1531"/><line x1="292" y1="1552" x2="292" y2="1569"/><line x1="292" y1="1621" x2="292" y2="1637"/></g>
<g font-size="15">
<rect class="y" x="294.5" y="1144.9" width="72.2" height="16.5"/><text x="296" y="1158.4">oPt-14797</text>
<rect class="y" x="294.5" y="1171.6" width="63.9" height="16.5"/><text x="296" y="1185.1">oPt-3349</text>
<rect class="y" x="294.5" y="1193" width="72.2" height="16.5"/><text x="296" y="1206.5">oPt-10060</text>
<rect class="b" x="374.7" y="1193" width="63.9" height="16.5"/><text x="376.2" y="1206.5">oPt-4770</text>
<rect class="y" x="294.5" y="1211.9" width="72.2" height="16.5"/><text x="296" y="1225.4">oPt-11329</text>
<rect class="b" x="294.5" y="1233.3" width="63.9" height="16.5"/><text x="296" y="1246.8">oPt-2535</text>
<rect class="y" x="366.4" y="1233.3" width="63.9" height="16.5"/><text x="367.9" y="1246.8">oPt-2333</text>
<rect class="y" x="294.5" y="1253.6" width="72.2" height="16.5"/><text x="296" y="1267.1">oPt-12047</text>
<rect class="y" x="374.7" y="1253.6" width="72.2" height="16.5"/><text x="376.2" y="1267.1">oPt-16035</text>
<rect class="y" x="294.5" y="1275" width="63.9" height="16.5"/><text x="296" y="1288.5">oPt-9348</text>
<rect class="b" x="366.4" y="1275" width="63.9" height="16.5"/><text x="367.9" y="1288.5">oPt-4212</text>
<rect class="y" x="294.5" y="1295.7" width="63.9" height="16.5"/><text x="296" y="1309.2">oPt-2613</text>
<rect class="y" x="366.4" y="1295.7" width="63.9" height="16.5"/><text x="367.9" y="1309.2">oPt-1395</text>
<rect class="g" x="294.5" y="1318.9" width="80.6" height="16.5"/><text x="296" y="1332.4">oPt-793793</text>
<rect class="y" x="383.1" y="1318.9" width="72.2" height="16.5"/><text x="384.6" y="1332.4">oPt-14318</text>
<rect class="y" x="294.5" y="1342.7" width="72.2" height="16.5"/><text x="296" y="1356.2">oPt-11812</text>
<rect class="y" x="374.7" y="1342.7" width="72.2" height="16.5"/><text x="376.2" y="1356.2">oPt-11214</text>
<rect class="y" x="294.5" y="1365.9" width="63.9" height="16.5"/><text x="296" y="1379.4">oPt-3461</text>
<rect class="y" x="366.4" y="1365.9" width="63.9" height="16.5"/><text x="367.9" y="1379.4">oPt-6096</text>
<rect class="g" x="294.5" y="1387.3" width="80.6" height="16.5"/><text x="296" y="1400.8">oPt-794917</text>
<rect class="y" x="383.1" y="1387.3" width="63.9" height="16.5"/><text x="384.6" y="1400.8">oPt-2284</text>
<rect class="y" x="294.5" y="1406.9" width="72.2" height="16.5"/><text x="296" y="1420.4">oPt-17838</text>
<rect class="y" x="374.7" y="1406.9" width="72.2" height="16.5"/><text x="376.2" y="1420.4">oPt-17979</text>
<rect class="g" x="294.5" y="1429.4" width="80.6" height="16.5"/><text x="296" y="1442.9">oPt-795193</text>
<rect class="g" x="383.1" y="1429.4" width="80.6" height="16.5"/><text x="384.6" y="1442.9">oPt-793256</text>
<rect class="g" x="294.5" y="1450.8" width="80.6" height="16.5"/><text x="296" y="1464.3">oPt-794213</text>
<rect class="y" x="383.1" y="1450.8" width="72.2" height="16.5"/><text x="384.6" y="1464.3">oPt-10683</text>
<rect class="g" x="294.5" y="1472.2" width="80.6" height="16.5"/><text x="296" y="1485.7">oPt-795737</text>
<rect class="y" x="383.1" y="1472.2" width="63.9" height="16.5"/><text x="384.6" y="1485.7">oPt-7571</text>
<rect class="g" x="294.5" y="1492.5" width="80.6" height="16.5"/><text x="296" y="1506">oPt-795534</text>
<rect class="y" x="383.1" y="1492.5" width="63.9" height="16.5"/><text x="384.6" y="1506">oPt-5662</text>
<rect class="y" x="294.5" y="1513.9" width="72.2" height="16.5"/><text x="296" y="1527.4">oPt-11533</text>
<rect class="g" x="374.7" y="1513.9" width="80.6" height="16.5"/><text x="376.2" y="1527.4">oPt-794456</text>
<rect class="y" x="294.5" y="1534.2" width="63.9" height="16.5"/><text x="296" y="1547.7">oPt-6791</text>
<rect class="y" x="294.5" y="1552.4" width="72.2" height="16.5"/><text x="296" y="1565.9">oPt-11243</text>
<rect class="y" x="374.7" y="1552.4" width="72.2" height="16.5"/><text x="376.2" y="1565.9">oPt-11944</text>
<rect class="y" x="294.5" y="1576.3" width="63.9" height="16.5"/><text x="296" y="1589.8">oPt-9593</text>
<rect class="b" x="294.5" y="1597.6" width="63.9" height="16.5"/><text x="296" y="1611.1">oPt-9007</text>
<rect class="g" x="294.5" y="1620.8" width="80.6" height="16.5"/><text x="296" y="1634.3">oPt-793172</text>
<rect class="y" x="383.1" y="1620.8" width="72.2" height="16.5"/><text x="384.6" y="1634.3">oPt-10922</text>
</g>
</g>

<!-- BAM_10 -->
<g id="BAM_10">
<text class="ttl" x="561.7" y="1101.7" font-size="17">BAM_10</text>
<rect class="qr" x="512" y="1187" width="16" height="16" rx="3"/>
<rect class="qr" x="512" y="1337" width="16" height="17" rx="3"/>
<rect class="qr" x="512" y="1412" width="14.5" height="55" rx="3"/>
<rect class="chr" x="584.5" y="1140" width="11.5" height="338" rx="5.7"/>
<g class="pos" font-size="14">
<text x="563.3" y="1148.9">0.0</text><text x="563.3" y="1164.2">3.1</text><text x="563.3" y="1199.9">13.6</text><text x="563.3" y="1314.9">50.1</text><text x="563.3" y="1331.6">56.1</text><text x="563.3" y="1348.9">60.6</text><text x="563.3" y="1376.6">65.0</text><text x="563.3" y="1398.2">67.5</text><text x="563.3" y="1415.6">70.5</text><text x="563.3" y="1433.2">80.4</text><text x="563.3" y="1449.9">83.4</text><text x="563.3" y="1466.6">87.7</text><text x="563.3" y="1482.2">90.4</text>
</g>
<g class="tk">
<polyline points="565.5,1144 572,1144 584.5,1148 596,1148 605,1141.7 611,1141.7"/>
<polyline points="565.5,1159.3 572,1159.3 584.5,1159.3 596,1159.3 605,1159.3 611,1159.3"/>
<polyline points="565.5,1195 572,1195 584.5,1195 596,1195 605,1194.3 610,1194.3"/>
<polyline points="565.5,1310 572,1310 584.5,1325.9 596,1325.9 605,1309.3 611,1309.3"/>
<polyline points="565.5,1326.7 572,1326.7 584.5,1347.2 596,1347.2 605,1326.7 610,1326.7"/>
<polyline points="565.5,1344 572,1344 584.5,1363.1 596,1363.1 605,1344 610,1344"/>
<polyline points="565.5,1371.7 572,1371.7 584.5,1378.8 596,1378.8 605,1368 610,1368"/>
<polyline points="565.5,1393.3 572,1393.3 584.5,1387.6 596,1387.6 605,1393.3 611,1393.3"/>
<polyline points="565.5,1410.7 572,1410.7 584.5,1398.3 596,1398.3 605,1410.7 610,1410.7"/>
<polyline points="565.5,1428.3 572,1428.3 584.5,1430 596,1430 605,1427.7 611,1427.7"/>
<polyline points="565.5,1445 572,1445 584.5,1442 596,1442 605,1445 611,1445"/>
<polyline points="565.5,1461.7 572,1461.7 584.5,1458 596,1458 605,1461.7 611,1461.7"/>
<polyline points="565.5,1477.3 572,1477.3 584.5,1468 596,1468 605,1477.3 611,1477.3"/>
</g>
<g class="br"><line x1="610.5" y1="1187" x2="610.5" y2="1202"/><line x1="610.5" y1="1319" x2="610.5" y2="1334"/><line x1="610.5" y1="1337" x2="610.5" y2="1351"/><line x1="610.5" y1="1353" x2="610.5" y2="1384"/><line x1="610.5" y1="1403" x2="610.5" y2="1418"/></g>
<g font-size="15">
<rect class="y" x="612.8" y="1133.7" width="63.9" height="16"/><text x="614.3" y="1147">oPt-2569</text>
<rect class="y" x="612.8" y="1151.3" width="63.9" height="16"/><text x="614.3" y="1164.6">oPt-8259</text>
<rect class="y" x="612.8" y="1186.3" width="63.9" height="16"/><text x="614.3" y="1199.6">oPt-9063</text>
<rect class="y" x="685.2" y="1186.3" width="72.2" height="16"/><text x="686.7" y="1199.6">oPt-16407</text>
<rect class="y" x="612.8" y="1301.3" width="63.9" height="16"/><text x="614.3" y="1314.6">oPt-5045</text>
<rect class="b" x="612.8" y="1318.7" width="63.9" height="16"/><text x="614.3" y="1332">oPt-4395</text>
<rect class="y" x="685.2" y="1318.7" width="72.2" height="16"/><text x="686.7" y="1332">oPt-10262</text>
<rect class="g" x="612.8" y="1336" width="80.6" height="16"/><text x="614.3" y="1349.3">oPt-795061</text>
<rect class="y" x="701.9" y="1336" width="63.9" height="16"/><text x="703.4" y="1349.3">oPt-6613</text>
<rect class="y" x="612.8" y="1352" width="72.2" height="16"/><text x="614.3" y="1365.3">oPt-14907</text>
<rect class="y" x="693.5" y="1352" width="72.2" height="16"/><text x="695" y="1365.3">oPt-15736</text>
<rect class="g" x="612.8" y="1368" width="80.6" height="16"/><text x="614.3" y="1381.3">oPt-793349</text>
<rect class="b" x="612.8" y="1385.3" width="63.9" height="16"/><text x="614.3" y="1398.6">oPt-3302</text>
<rect class="g" x="612.8" y="1402.7" width="80.6" height="16"/><text x="614.3" y="1416">oPt-794329</text>
<rect class="g" x="701.9" y="1402.7" width="80.6" height="16"/><text x="703.4" y="1416">oPt-794454</text>
<rect class="y" x="612.8" y="1419.7" width="63.9" height="16"/><text x="614.3" y="1433">oPt-8186</text>
<rect class="l" x="612.8" y="1437" width="128" height="16"/><text x="614.3" y="1450.3">GMI_c23257_1_76</text>
<rect class="y" x="612.8" y="1453.7" width="72.2" height="16"/><text x="614.3" y="1467">oPt-14852</text>
<rect class="y" x="612.8" y="1469.3" width="72.2" height="16"/><text x="614.3" y="1482.6">oPt-17246</text>
</g>
</g>

<g id="BAM_10_bins">
<g class="br"><line x1="811.7" y1="1098" x2="811.7" y2="1155"/><line x1="811.7" y1="1161" x2="811.7" y2="1219"/><line x1="811.7" y1="1240" x2="811.7" y2="1256"/><line x1="811.7" y1="1268" x2="811.7" y2="1284"/><line x1="811.7" y1="1294" x2="811.7" y2="1396"/><line x1="811.7" y1="1423" x2="811.7" y2="1440"/><line x1="811.7" y1="1463" x2="811.7" y2="1607"/></g>
<g font-size="15">
<rect class="y" x="813.5" y="1097.2" width="72.2" height="17"/><text x="815" y="1111">oPt-11623</text>
<rect class="y" x="894.7" y="1097.2" width="63.9" height="17"/><text x="896.2" y="1111">oPt-5355</text>
<rect class="g" x="967.6" y="1097.2" width="80.6" height="17"/><text x="969.1" y="1111">oPt-793154</text>
<rect class="p" x="813.5" y="1118.2" width="87.2" height="17"/><text x="815" y="1132">AB_AM_927</text>
<rect class="y" x="909.7" y="1118.2" width="63.9" height="17"/><text x="911.2" y="1132">oPt-7856</text>
<rect class="b" x="982.6" y="1118.2" width="63.9" height="17"/><text x="984.1" y="1132">oPt-8862</text>
<rect class="g" x="813.5" y="1138.2" width="80.6" height="17"/><text x="815" y="1152">oPt-794251</text>
<rect class="y" x="813.5" y="1159.8" width="63.9" height="17"/><text x="815" y="1173.6">oPt-8259</text>
<rect class="y" x="886.4" y="1159.8" width="63.9" height="17"/><text x="887.9" y="1173.6">oPt-7804</text>
<rect class="y" x="959.3" y="1159.8" width="72.2" height="17"/><text x="960.8" y="1173.6">oPt-14409</text>
<rect class="y" x="813.5" y="1181.5" width="72.2" height="17"/><text x="815" y="1195.3">oPt-15676</text>
<rect class="y" x="894.7" y="1181.5" width="72.2" height="17"/><text x="896.2" y="1195.3">oPt-18260</text>
<rect class="y" x="975.9" y="1181.5" width="63.9" height="17"/><text x="977.4" y="1195.3">oPt-5211</text>
<rect class="y" x="813.5" y="1202.5" width="63.9" height="17"/><text x="815" y="1216.3">oPt-1218</text>
<rect class="g" x="886.4" y="1202.5" width="80.6" height="17"/><text x="887.9" y="1216.3">oPt-795185</text>
<rect class="g" x="813.5" y="1239.2" width="80.6" height="17"/><text x="815" y="1253">oPt-794728</text>
<rect class="g" x="903.1" y="1239.2" width="80.6" height="17"/><text x="904.6" y="1253">oPt-794618</text>
<rect class="y" x="813.5" y="1267.5" width="72.2" height="17"/><text x="815" y="1281.3">oPt-16263</text>
<rect class="g" x="894.7" y="1267.5" width="80.6" height="17"/><text x="896.2" y="1281.3">oPt-793444</text>
<rect class="y" x="984.3" y="1267.5" width="72.2" height="17"/><text x="985.8" y="1281.3">oPt-10251</text>
<rect class="y" x="813.5" y="1293.2" width="72.2" height="17"/><text x="815" y="1307">oPt-17978</text>
<rect class="g" x="894.7" y="1293.2" width="80.6" height="17"/><text x="896.2" y="1307">oPt-795430</text>
<rect class="g" x="984.3" y="1293.2" width="80.6" height="17"/><text x="985.8" y="1307">oPt-794566</text>
<rect class="b" x="813.5" y="1314.2" width="63.9" height="17"/><text x="815" y="1328">oPt-3292</text>
<rect class="y" x="886.4" y="1314.2" width="63.9" height="17"/><text x="887.9" y="1328">oPt-0513</text>
<rect class="y" x="959.3" y="1314.2" width="72.2" height="17"/><text x="960.8" y="1328">oPt-16944</text>
<rect class="g" x="813.5" y="1334.8" width="80.6" height="17"/><text x="815" y="1348.6">oPt-794594</text>
<rect class="g" x="903.1" y="1334.8" width="80.6" height="17"/><text x="904.6" y="1348.6">oPt-793574</text>
<rect class="g" x="992.7" y="1334.8" width="80.6" height="17"/><text x="994.2" y="1348.6">oPt-794156</text>
<rect class="y" x="813.5" y="1354.8" width="63.9" height="17"/><text x="815" y="1368.6">oPt-5411</text>
<rect class="y" x="886.4" y="1354.8" width="63.9" height="17"/><text x="887.9" y="1368.6">oPt-9861</text>
<rect class="g" x="959.3" y="1354.8" width="80.6" height="17"/><text x="960.8" y="1368.6">oPt-794567</text>
<rect class="g" x="813.5" y="1378.2" width="80.6" height="17"/><text x="815" y="1392">oPt-795300</text>
<rect class="y" x="813.5" y="1400.8" width="63.9" height="17"/><text x="815" y="1414.6">oPt-6498</text>
<rect class="y" x="813.5" y="1422.5" width="72.2" height="17"/><text x="815" y="1436.3">oPt-11511</text>
<rect class="y" x="894.7" y="1422.5" width="63.9" height="17"/><text x="896.2" y="1436.3">oPt-1245</text>
<rect class="y" x="813.5" y="1442.2" width="72.2" height="17"/><text x="815" y="1456">oPt-17895</text>
<rect class="y" x="813.5" y="1463.2" width="72.2" height="17"/><text x="815" y="1477">oPt-14050</text>
<rect class="y" x="894.7" y="1463.2" width="72.2" height="17"/><text x="896.2" y="1477">oPt-12816</text>
<rect class="y" x="975.9" y="1463.2" width="72.2" height="17"/><text x="977.4" y="1477">oPt-11375</text>
<rect class="y" x="813.5" y="1484.8" width="63.9" height="17"/><text x="815" y="1498.6">oPt-0332</text>
<rect class="y" x="886.4" y="1484.8" width="63.9" height="17"/><text x="887.9" y="1498.6">oPt-0263</text>
<rect class="y" x="959.3" y="1484.8" width="72.2" height="17"/><text x="960.8" y="1498.6">oPt-11888</text>
<rect class="b" x="813.5" y="1506.5" width="63.9" height="17"/><text x="815" y="1520.3">oPt-3465</text>
<rect class="y" x="886.4" y="1506.5" width="72.2" height="17"/><text x="887.9" y="1520.3">oPt-11079</text>
<rect class="b" x="967.6" y="1506.5" width="63.9" height="17"/><text x="969.1" y="1520.3">oPt-9986</text>
<rect class="y" x="813.5" y="1526.5" width="72.2" height="17"/><text x="815" y="1540.3">oPt-18095</text>
<rect class="b" x="894.7" y="1526.5" width="63.9" height="17"/><text x="896.2" y="1540.3">oPt-6110</text>
<rect class="b" x="967.6" y="1526.5" width="63.9" height="17"/><text x="969.1" y="1540.3">oPt-8037</text>
<rect class="g" x="813.5" y="1547.5" width="80.6" height="17"/><text x="815" y="1561.3">oPt-795332</text>
<rect class="y" x="903.1" y="1547.5" width="72.2" height="17"/><text x="904.6" y="1561.3">oPt-14187</text>
<rect class="y" x="984.3" y="1547.5" width="72.2" height="17"/><text x="985.8" y="1561.3">oPt-15715</text>
<rect class="y" x="813.5" y="1568.8" width="72.2" height="17"/><text x="815" y="1582.6">oPt-11634</text>
<rect class="b" x="894.7" y="1568.8" width="63.9" height="17"/><text x="896.2" y="1582.6">oPt-8407</text>
<rect class="y" x="967.6" y="1568.8" width="72.2" height="17"/><text x="969.1" y="1582.6">oPt-11072</text>
<rect class="g" x="813.5" y="1589.8" width="80.6" height="17"/><text x="815" y="1603.6">oPt-794755</text>
</g>
</g>

<g id="connectors" class="cn">
<line x1="288" y1="76" x2="318" y2="44"/><line x1="288" y1="99" x2="318" y2="62"/><line x1="287" y1="173" x2="318" y2="108"/><line x1="288" y1="193" x2="318" y2="136"/><line x1="287" y1="208" x2="318" y2="172"/><line x1="287" y1="239" x2="318" y2="214"/><line x1="283" y1="258" x2="318" y2="256"/><line x1="286" y1="283" x2="318" y2="308"/><line x1="283" y1="313" x2="318" y2="350"/><line x1="285" y1="318" x2="318" y2="420"/><line x1="288" y1="323" x2="318" y2="483"/>
<line x1="840" y1="63" x2="869" y2="45"/><line x1="837" y1="80" x2="869" y2="70"/><line x1="847" y1="117" x2="870" y2="88"/><line x1="835" y1="132" x2="869" y2="122"/><line x1="832" y1="202" x2="869" y2="191"/><line x1="835" y1="219" x2="869" y2="248"/><line x1="837" y1="235" x2="869" y2="284"/><line x1="832" y1="296" x2="868" y2="305"/><line x1="837" y1="325" x2="868" y2="325"/><line x1="838" y1="353" x2="869" y2="353"/><line x1="838" y1="393" x2="869" y2="393"/>
<line x1="223" y1="615" x2="258" y2="604"/><line x1="238" y1="633" x2="258" y2="633"/><line x1="224" y1="657" x2="258" y2="666"/><line x1="224" y1="723" x2="258" y2="723"/><line x1="224" y1="788" x2="259" y2="788"/><line x1="240" y1="807" x2="258" y2="806"/><line x1="224" y1="827" x2="259" y2="827"/><line x1="223" y1="866" x2="259" y2="866"/>
<line x1="680" y1="600" x2="703" y2="570"/><line x1="668" y1="612" x2="703" y2="590"/><line x1="667" y1="630" x2="703" y2="610"/><line x1="670" y1="690" x2="703" y2="630"/><line x1="670" y1="710" x2="704" y2="648"/><line x1="670" y1="727" x2="703" y2="695"/><line x1="668" y1="743" x2="703" y2="768"/><line x1="667" y1="767" x2="703" y2="813"/><line x1="663" y1="797" x2="703" y2="832"/><line x1="660" y1="815" x2="703" y2="860"/><line x1="657" y1="832" x2="703" y2="897"/><line x1="655" y1="850" x2="703" y2="934"/><line x1="650" y1="870" x2="703" y2="980"/><line x1="647" y1="880" x2="703" y2="1026"/><line x1="643" y1="888" x2="704" y2="1054"/>
<line x1="240" y1="1164" x2="289" y2="1154"/><line x1="260" y1="1208" x2="290" y2="1180"/><line x1="250" y1="1225" x2="292" y2="1203"/><line x1="248" y1="1239" x2="290" y2="1219"/><line x1="248" y1="1265" x2="292" y2="1273"/><line x1="243" y1="1300" x2="292" y2="1326"/><line x1="248" y1="1350" x2="292" y2="1350"/><line x1="248" y1="1378" x2="292" y2="1422"/><line x1="248" y1="1406" x2="292" y2="1540"/><line x1="253" y1="1533" x2="292" y2="1560"/><line x1="260" y1="1594" x2="290" y2="1585"/><line x1="257" y1="1618" x2="290" y2="1608"/><line x1="255" y1="1630" x2="292" y2="1630"/>
<line x1="766" y1="1142" x2="811" y2="1127"/><line x1="775" y1="1176" x2="811" y2="1184"/><line x1="775" y1="1297" x2="811" y2="1250"/><line x1="776" y1="1325" x2="811" y2="1279"/><line x1="775" y1="1382" x2="811" y2="1347"/><line x1="783" y1="1421" x2="812" y2="1410"/><line x1="770" y1="1432" x2="811" y2="1432"/><line x1="767" y1="1466" x2="812" y2="1450"/><line x1="768" y1="1503" x2="811" y2="1521"/>
</g>
</svg>
